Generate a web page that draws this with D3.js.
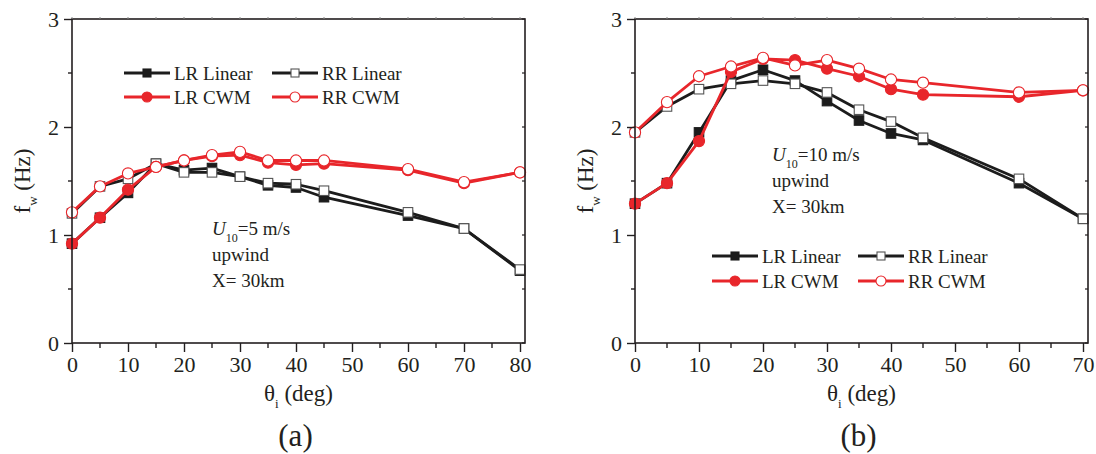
<!DOCTYPE html>
<html>
<head>
<meta charset="utf-8">
<script src="https://cdn.jsdelivr.net/npm/d3@7"></script>
<style>
  html, body { margin: 0; padding: 0; background: #fff; }
  svg { display: block; }
  text { font-family: "Liberation Serif", "Times New Roman", serif; fill: #231f20; }
</style>
</head>
<body>
<svg id="chart" width="1096" height="454"></svg>
<script>
// Incidence angles (deg)
const anglesA = [0, 5, 10, 15, 20, 25, 30, 35, 40, 45, 60, 70, 80];
const anglesB = [0, 5, 10, 15, 20, 25, 30, 35, 40, 45, 60, 70];

// Panel (a): U10 = 5 m/s, upwind, X = 30 km — fw (Hz)
const aLRLinear = [0.92, 1.16, 1.39, 1.66, 1.60, 1.62, 1.54, 1.46, 1.44, 1.35, 1.18, 1.06, 0.67];
const aRRLinear = [1.20, 1.45, 1.52, 1.66, 1.58, 1.58, 1.54, 1.48, 1.47, 1.41, 1.21, 1.06, 0.68];
const aLRCWM    = [0.92, 1.16, 1.42, 1.63, 1.69, 1.73, 1.74, 1.67, 1.65, 1.66, 1.60, 1.48, 1.58];
const aRRCWM    = [1.21, 1.45, 1.57, 1.63, 1.69, 1.74, 1.77, 1.69, 1.69, 1.69, 1.61, 1.49, 1.58];

// Panel (b): U10 = 10 m/s, upwind, X = 30 km — fw (Hz)
const bLRLinear = [1.29, 1.48, 1.95, 2.43, 2.53, 2.43, 2.24, 2.06, 1.94, 1.88, 1.48, 1.15];
const bRRLinear = [1.95, 2.19, 2.35, 2.40, 2.43, 2.40, 2.32, 2.16, 2.05, 1.90, 1.52, 1.15];
const bLRCWM    = [1.29, 1.48, 1.87, 2.51, 2.63, 2.62, 2.54, 2.47, 2.35, 2.30, 2.28, 2.34];
const bRRCWM    = [1.95, 2.23, 2.47, 2.56, 2.64, 2.57, 2.62, 2.54, 2.44, 2.41, 2.32, 2.34];

const seriesNames = ["LR Linear", "RR Linear", "LR CWM", "RR CWM"];
const yTicks = [0, 1, 2, 3];

const RED = "#e8262b";
const BLACK = "#1c1c1c";
const AXIS = "#231f20";

// Visual style for each series (by name)
const styles = {
  "LR Linear": { color: BLACK, shape: "square", filled: true },
  "RR Linear": { color: BLACK, shape: "square", filled: false },
  "LR CWM":    { color: RED,   shape: "circle", filled: true },
  "RR CWM":    { color: RED,   shape: "circle", filled: false }
};

const svg = d3.select("#chart");

function drawMarker(g, style, x, y) {
  if (style.shape === "square") {
    const s = 9.5;
    g.append("rect")
      .attr("x", x - s / 2).attr("y", y - s / 2)
      .attr("width", s).attr("height", s)
      .attr("fill", style.filled ? style.color : "#fff")
      .attr("stroke", style.filled ? style.color : "#555")
      .attr("stroke-width", 1.1);
  } else {
    g.append("circle")
      .attr("cx", x).attr("cy", y).attr("r", 5.6)
      .attr("fill", style.filled ? style.color : "#fff")
      .attr("stroke", style.color)
      .attr("stroke-width", 1.1);
  }
}

function panel(opts) {
  const { left, right, xEnd, top, bottom, xMax, xTicks, angles, data, legend, note, label, ylabelX } = opts;
  const x = d3.scaleLinear().domain([0, xMax]).range([left, xEnd]);
  const y = d3.scaleLinear().domain([0, 3]).range([bottom, top]);
  const g = svg.append("g");

  // series lines then markers, red drawn over black
  data.forEach(([name, vals]) => {
    const st = styles[name];
    const line = d3.line().x((d, i) => x(angles[i])).y(d => y(d));
    g.append("path").datum(vals)
      .attr("d", line).attr("fill", "none")
      .attr("stroke", st.color).attr("stroke-width", 2.8)
      .attr("stroke-linejoin", "round");
    const mg = g.append("g");
    vals.forEach((v, i) => drawMarker(mg, st, x(angles[i]), y(v)));
  });

  // frame
  g.append("rect")
    .attr("x", left).attr("y", top)
    .attr("width", right - left).attr("height", bottom - top)
    .attr("fill", "none").attr("stroke", AXIS).attr("stroke-width", 1.6);

  // bottom axis
  const xAxis = d3.axisBottom(x).tickValues(xTicks).tickSize(9).tickPadding(4)
    .tickFormat(d3.format("d"));
  const xa = g.append("g").attr("transform", `translate(0,${bottom})`).call(xAxis);
  xa.select(".domain").remove();
  xa.selectAll(".tick line").attr("stroke", AXIS).attr("stroke-width", 1.4);
  xa.selectAll(".tick text").attr("font-size", 22).attr("fill", AXIS)
    .style("font-family", "'Liberation Serif', 'Times New Roman', serif");
  const xMinor = d3.range(5, xMax + 1, 10);
  g.append("g").selectAll("line").data(xMinor).join("line")
    .attr("x1", d => x(d)).attr("x2", d => x(d))
    .attr("y1", bottom).attr("y2", bottom + 5)
    .attr("stroke", AXIS).attr("stroke-width", 1.4);
  // top mirror ticks
  g.append("g").selectAll("line").data(xTicks.concat(xMinor)).join("line")
    .attr("x1", d => x(d)).attr("x2", d => x(d))
    .attr("y1", top).attr("y2", top - 2)
    .attr("stroke", "#888").attr("stroke-width", 1);

  // left axis
  const yAxis = d3.axisLeft(y).tickValues(yTicks).tickSize(8).tickPadding(5)
    .tickFormat(d3.format("d"));
  const ya = g.append("g").attr("transform", `translate(${left},0)`).call(yAxis);
  ya.select(".domain").remove();
  ya.selectAll(".tick line").attr("stroke", AXIS).attr("stroke-width", 1.4);
  ya.selectAll(".tick text").attr("font-size", 22).attr("fill", AXIS)
    .style("font-family", "'Liberation Serif', 'Times New Roman', serif");
  const yMinor = [0.5, 1.5, 2.5];
  g.append("g").selectAll("line").data(yMinor).join("line")
    .attr("x1", left - 4).attr("x2", left)
    .attr("y1", d => y(d)).attr("y2", d => y(d))
    .attr("stroke", AXIS).attr("stroke-width", 1.4);
  // right mirror ticks
  g.append("g").selectAll("line").data(yTicks.concat(yMinor)).join("line")
    .attr("x1", right - 3).attr("x2", right)
    .attr("y1", d => y(d)).attr("y2", d => y(d))
    .attr("stroke", AXIS).attr("stroke-width", 1.2);

  // axis titles
  const cx = (left + right) / 2;
  const xt = g.append("text").attr("x", cx).attr("y", 401)
    .attr("text-anchor", "middle").attr("font-size", 23);
  xt.append("tspan").text("θ");
  xt.append("tspan").attr("font-size", 13).attr("dy", 7).text("i");
  xt.append("tspan").attr("dy", -7).text(" (deg)");

  const yt = g.append("text")
    .attr("transform", `translate(${ylabelX},${(top + bottom) / 2}) rotate(-90)`)
    .attr("text-anchor", "middle").attr("font-size", 23);
  yt.append("tspan").text("f");
  yt.append("tspan").attr("font-size", 13).attr("dy", 7).text("w");
  yt.append("tspan").attr("dy", -7).text(" (Hz)");

  g.append("text").attr("x", cx - 3).attr("y", 446)
    .attr("text-anchor", "middle").attr("font-size", 31).text(label);

  // legend
  legend.items.forEach((name, i) => {
    const st = styles[name];
    const col = i % 2, row = Math.floor(i / 2);
    const lx = legend.x + col * legend.colGap;
    const ly = legend.y + row * legend.rowGap;
    g.append("line").attr("x1", lx).attr("x2", lx + 46)
      .attr("y1", ly).attr("y2", ly)
      .attr("stroke", st.color).attr("stroke-width", 2.8);
    const mg = g.append("g");
    drawMarker(mg, st, lx + 23, ly);
    mg.select("rect").attr("width", 8).attr("height", 8).attr("x", lx + 19).attr("y", ly - 4);
    mg.select("circle").attr("r", 5);
    g.append("text").attr("x", lx + 50).attr("y", ly + 6.5)
      .attr("font-size", 19).text(name);
  });

  // annotation
  const n1 = g.append("text").attr("x", note.x).attr("y", note.y).attr("font-size", 19);
  n1.append("tspan").attr("font-style", "italic").text("U");
  n1.append("tspan").attr("font-size", 12).attr("dy", 7).text("10");
  n1.append("tspan").attr("dy", -7).text(note.speed);
  g.append("text").attr("x", note.x).attr("y", note.y + 26).attr("font-size", 19).text("upwind");
  g.append("text").attr("x", note.x).attr("y", note.y + 52).attr("font-size", 19).text("X= 30km");
}

panel({
  left: 72, right: 525, xEnd: 520, top: 19, bottom: 343, xMax: 80,
  xTicks: d3.range(0, 81, 10), angles: anglesA,
  data: [["LR Linear", aLRLinear], ["RR Linear", aRRLinear], ["LR CWM", aLRCWM], ["RR CWM", aRRCWM]],
  legend: { x: 124, y: 73, colGap: 148, rowGap: 24, items: seriesNames },
  note: { x: 212, y: 235, speed: "=5 m/s" },
  label: "(a)", ylabelX: 30
});

panel({
  left: 635, right: 1088, xEnd: 1083, top: 19, bottom: 343, xMax: 70,
  xTicks: d3.range(0, 71, 10), angles: anglesB,
  data: [["LR Linear", bLRLinear], ["RR Linear", bRRLinear], ["LR CWM", bLRCWM], ["RR CWM", bRRCWM]],
  legend: { x: 712, y: 256, colGap: 146, rowGap: 25, items: seriesNames },
  note: { x: 772, y: 161, speed: "=10 m/s" },
  label: "(b)", ylabelX: 593
});
</script>
</body>
</html>
